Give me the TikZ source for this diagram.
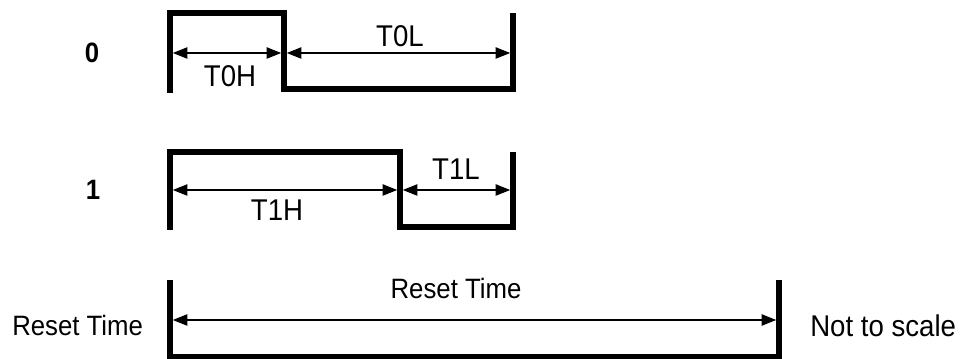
\documentclass[tikz,border=0pt]{standalone}
\usepackage{fontspec}
\setmainfont{Liberation Sans}[FakeStretch=0.92]
\usetikzlibrary{arrows.meta}
\begin{document}
\begin{tikzpicture}[x=0.75pt,y=-0.75pt,
  sig/.style={line width=4.2pt, line join=miter},
  dim/.style={line width=1.2pt, shorten <=2.1pt, shorten >=2.1pt,
    {Triangle[length=11pt,width=8.5pt]}-{Triangle[length=11pt,width=8.5pt]}},
  lbl/.style={inner sep=0pt, font=\fontsize{22.5}{26}\selectfont},
  rlbl/.style={inner sep=0pt, font=\fontsize{21}{24}\selectfont},
  rowlbl/.style={inner sep=0pt, font=\fontsize{21}{24}\selectfont\bfseries}]
\useasboundingbox (0,0) rectangle (964,359);
% row 0
\coordinate (a0) at (170,93);
\coordinate (b0) at (170,13);
\coordinate (c0) at (284,13);
\coordinate (d0) at (284,89);
\coordinate (e0) at (513,89);
\coordinate (f0) at (513,13);
\draw[sig] (a0) -- (b0) -- (c0) -- (d0) -- (e0) -- (f0);
\coordinate (p0) at (170,53);
\coordinate (q0) at (284,53);
\coordinate (r0) at (513,53);
\draw[dim] (p0) -- (q0);
\draw[dim] (q0) -- (r0);
\node[rowlbl] (z) at (92,53) {0};
\node[lbl] (t0h) at (230,76) {T0H};
\node[lbl] (t0l) at (400,36) {T0L};
% row 1
\coordinate (a1) at (170,230);
\coordinate (b1) at (170,152);
\coordinate (c1) at (400,152);
\coordinate (d1) at (400,227);
\coordinate (e1) at (513,227);
\coordinate (f1) at (513,152);
\draw[sig] (a1) -- (b1) -- (c1) -- (d1) -- (e1) -- (f1);
\coordinate (p1) at (170,190);
\coordinate (q1) at (400,190);
\coordinate (r1) at (513,190);
\draw[dim] (p1) -- (q1);
\draw[dim] (q1) -- (r1);
\node[rowlbl] (o) at (93,190) {1};
\node[lbl] (t1h) at (277,210) {T1H};
\node[lbl] (t1l) at (456,169) {T1L};
% reset
\coordinate (a2) at (170,280);
\coordinate (b2) at (170,357);
\coordinate (c2) at (779,357);
\coordinate (d2) at (779,280);
\draw[sig] (a2) -- (b2) -- (c2) -- (d2);
\coordinate (p2) at (170,320);
\coordinate (q2) at (779,320);
\draw[dim] (p2) -- (q2);
\node[rlbl] (rt) at (456,288) {Reset Time};
\node[rlbl, anchor=west] (rtl) at (12,325) {Reset Time};
\node[lbl, anchor=west] (nts) at (810,326) {Not to scale};
\end{tikzpicture}
\end{document}
